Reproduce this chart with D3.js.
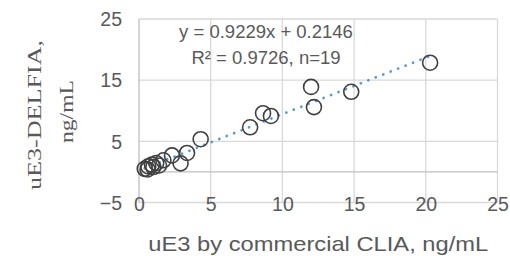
<!DOCTYPE html>
<html>
<head>
<meta charset="utf-8">
<script src="https://cdn.jsdelivr.net/npm/d3@7/dist/d3.min.js"></script>
<style>
  html, body { margin: 0; padding: 0; background: #fff; }
  svg { display: block; }
</style>
</head>
<body>
<svg id="chart" width="510" height="256"></svg>
<script>
// uE3 by commercial CLIA (x) vs uE3-DELFIA (y), ng/mL
const cliaValues = [20.3, 12.0, 12.2, 14.8, 8.65, 9.2, 7.75, 4.3, 3.35, 2.9, 2.3, 1.7, 1.2, 0.9, 0.65, 0.4, 1.0, 0.6, 1.4];
const delfiaValues = [17.85, 13.9, 10.6, 13.1, 9.6, 9.15, 7.3, 5.35, 3.1, 1.4, 2.7, 1.9, 1.45, 1.2, 0.9, 0.5, 0.8, 0.4, 1.05];

const xTicks = [0, 5, 10, 15, 20, 25];
const yTicks = [-5, 5, 15, 25];

const slope = 0.9229;
const intercept = 0.2146;
const equationLines = ['y = 0.9229x + 0.2146', 'R² = 0.9726, n=19'];
const xTitle = 'uE3 by commercial CLIA, ng/mL';
const yTitleLines = ['uE3-DELFIA,', 'ng/mL'];

const dim = {
  left: 139, right: 497.5, top: 19, bottom: 202.5,
};
const textColor = '#595959';
const sansFont = '"Liberation Sans", Arial, sans-serif';

const svg = d3.select('#chart');

const scaleX = d3.scaleLinear().domain([0, 25]).range([dim.left, dim.right]);
const scaleY = d3.scaleLinear().domain([-5, 25]).range([dim.bottom, dim.top]);

const points = cliaValues.map((x, i) => ({ x, y: delfiaValues[i] }));

// gridlines
const grid = svg.append('g').attr('class', 'grid');

grid.selectAll('.grid-h')
  .data(yTicks)
  .enter()
  .append('line')
  .attr('x1', dim.left)
  .attr('x2', dim.right)
  .attr('y1', (d) => scaleY(d))
  .attr('y2', (d) => scaleY(d))
  .style('stroke', '#d9d9d9')
  .style('stroke-width', 1.3);

grid.selectAll('.grid-v')
  .data(xTicks.filter((d) => d !== 0))
  .enter()
  .append('line')
  .attr('x1', (d) => scaleX(d))
  .attr('x2', (d) => scaleX(d))
  .attr('y1', dim.top)
  .attr('y2', dim.bottom)
  .style('stroke', '#d9d9d9')
  .style('stroke-width', 1.3);

// axis lines through zero
svg.append('line')
  .attr('x1', scaleX(0))
  .attr('x2', scaleX(0))
  .attr('y1', dim.top)
  .attr('y2', dim.bottom)
  .style('stroke', '#bfbfbf')
  .style('stroke-width', 1.3);

svg.append('line')
  .attr('x1', dim.left)
  .attr('x2', dim.right)
  .attr('y1', scaleY(0))
  .attr('y2', scaleY(0))
  .style('stroke', '#bfbfbf')
  .style('stroke-width', 1.3);

// tick labels
const xAxis = svg.append('g')
  .attr('transform', `translate(0, ${dim.bottom + 2})`)
  .call(d3.axisBottom(scaleX).tickValues(xTicks).tickSize(0).tickPadding(0));

const yAxis = svg.append('g')
  .attr('transform', `translate(${dim.left - 17}, 0)`)
  .call(d3.axisLeft(scaleY).tickValues(yTicks).tickSize(0).tickPadding(0));

svg.selectAll('.domain').remove();

xAxis.selectAll('text')
  .attr('y', 0)
  .attr('dy', '0.35em')
  .style('font-family', sansFont)
  .style('font-size', '19.5px')
  .style('fill', textColor);

yAxis.selectAll('text')
  .attr('x', 0)
  .attr('dy', '0.35em')
  .style('font-family', sansFont)
  .style('font-size', '19.5px')
  .style('fill', textColor);

// trendline
const xMin = d3.min(cliaValues);
const xMax = d3.max(cliaValues);
const lineGenerator = d3.line()
  .x((d) => scaleX(d.x))
  .y((d) => scaleY(d.y));

svg.append('path')
  .attr('d', lineGenerator([
    { x: xMin, y: slope * xMin + intercept },
    { x: xMax, y: slope * xMax + intercept },
  ]))
  .style('fill', 'none')
  .style('stroke', '#5b9bd5')
  .style('stroke-width', 2.8)
  .style('stroke-linecap', 'round')
  .style('stroke-dasharray', '0.01 8');

// data points
svg.append('g')
  .selectAll('circle')
  .data(points)
  .enter()
  .append('circle')
  .attr('cx', (d) => scaleX(d.x))
  .attr('cy', (d) => scaleY(d.y))
  .attr('r', 7.5)
  .style('fill', 'none')
  .style('stroke', '#404040')
  .style('stroke-width', 1.6);

// equation label
svg.append('g')
  .selectAll('text')
  .data(equationLines)
  .enter()
  .append('text')
  .attr('x', 266)
  .attr('y', (d, i) => 32 + i * 26)
  .attr('dy', '0.35em')
  .attr('text-anchor', 'middle')
  .style('font-family', sansFont)
  .style('font-size', '18.5px')
  .style('fill', textColor)
  .text((d) => d);

// axis titles
svg.append('text')
  .attr('x', (dim.left + dim.right) / 2)
  .attr('y', 244)
  .attr('dy', '0.35em')
  .attr('text-anchor', 'middle')
  .attr('textLength', 340)
  .attr('lengthAdjust', 'spacingAndGlyphs')
  .style('font-family', sansFont)
  .style('font-size', '21px')
  .style('fill', textColor)
  .text(xTitle);

const yTitleLayout = [
  { cx: 35, cy: 115, length: 150 },
  { cx: 67, cy: 111.5, length: 63 },
];

svg.append('g')
  .selectAll('text')
  .data(yTitleLines)
  .enter()
  .append('text')
  .attr('transform', (d, i) => `translate(${yTitleLayout[i].cx}, ${yTitleLayout[i].cy}) rotate(-90)`)
  .attr('dy', '0.35em')
  .attr('text-anchor', 'middle')
  .attr('textLength', (d, i) => yTitleLayout[i].length)
  .attr('lengthAdjust', 'spacingAndGlyphs')
  .style('font-family', '"Liberation Serif", "Times New Roman", serif')
  .style('font-size', '18px')
  .style('fill', textColor)
  .text((d) => d);
</script>
</body>
</html>
